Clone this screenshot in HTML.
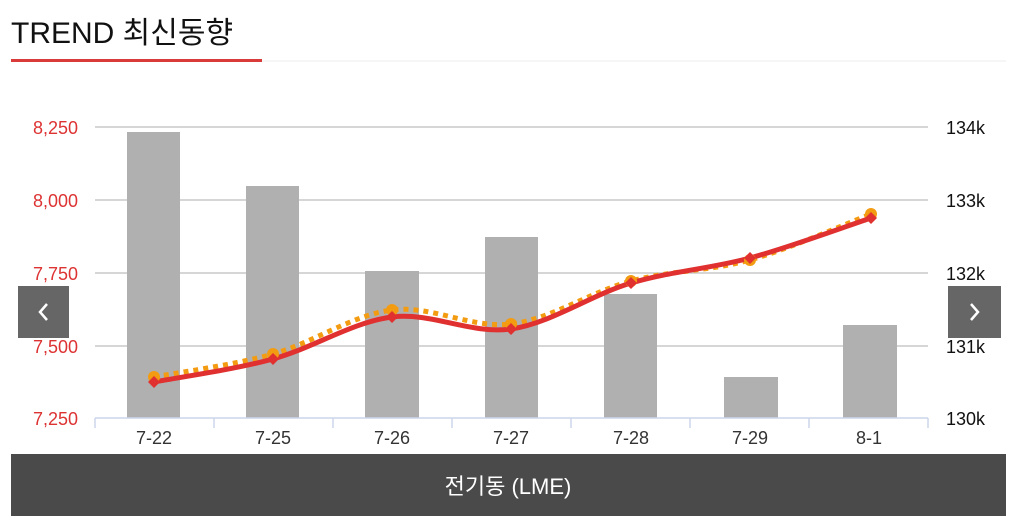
<!DOCTYPE html>
<html><head><meta charset="utf-8"><style>
body{margin:0;width:1015px;height:526px;background:#fff;overflow:hidden;font-family:"Liberation Sans","Noto Sans CJK KR",sans-serif;}
.t{position:absolute;left:11px;top:8px;font-size:30px;color:#111;}
</style></head><body>
<div class="t">TREND 최신동향</div>
<svg width="1015" height="526" style="position:absolute;left:0;top:0" id="s">
<line x1="11" y1="61" x2="1006" y2="61" stroke="#eee" stroke-width="1"/>
<rect x="11" y="59" width="251" height="3" fill="#d93a3a"/>
<g stroke="#c8c8c8" stroke-width="1.5">
<line x1="95" y1="127" x2="928" y2="127"/><line x1="95" y1="200" x2="928" y2="200"/>
<line x1="95" y1="273" x2="928" y2="273"/><line x1="95" y1="346" x2="928" y2="346"/>
</g>
<g fill="#b0b0b0">
<rect x="127" y="132" width="53" height="286"/><rect x="246" y="186" width="53" height="232"/>
<rect x="365" y="271" width="54" height="147"/><rect x="485" y="237" width="53" height="181"/>
<rect x="604" y="294" width="53" height="124"/><rect x="724" y="377" width="54" height="41"/>
<rect x="843" y="325" width="54" height="93"/>
</g>
<line x1="95" y1="418" x2="928" y2="418" stroke="#ccd6eb" stroke-width="1.5"/>
<g stroke="#ccd6eb" stroke-width="1.5" id="ticks"></g>
<path id="po" fill="none" stroke="#f39c12" stroke-width="5" stroke-dasharray="5,5"/>
<path id="pr" fill="none" stroke="#e03030" stroke-width="5"/>
<g id="mk"></g>
<g font-size="18" fill="#d33" text-anchor="end">
<text x="78" y="134">8,250</text><text x="78" y="207">8,000</text><text x="78" y="280">7,750</text><text x="78" y="353">7,500</text><text x="78" y="425">7,250</text>
</g>
<g font-size="18" fill="#111">
<text x="946" y="134">134k</text><text x="946" y="207">133k</text><text x="946" y="280">132k</text><text x="946" y="353">131k</text><text x="946" y="425">130k</text>
</g>
<g font-size="18" fill="#333" text-anchor="middle">
<text x="154" y="444">7-22</text><text x="273" y="444">7-25</text><text x="392" y="444">7-26</text><text x="511" y="444">7-27</text><text x="631" y="444">7-28</text><text x="750" y="444">7-29</text><text x="869" y="444">8-1</text>
</g>
<rect x="18" y="286" width="51" height="52" fill="#666"/>
<path d="M47 304 L40 312 L47 320" fill="none" stroke="#fff" stroke-width="2.5"/>
<rect x="948" y="286" width="53" height="52" fill="#666"/>
<path d="M971 304 L978 312 L971 320" fill="none" stroke="#fff" stroke-width="2.5"/>
<rect x="11" y="454" width="995" height="62" fill="#4a4a4a"/>
<text x="508" y="494" font-size="22" fill="#fff" text-anchor="middle">전기동 (LME)</text>
</svg>
<script>
var NS="http://www.w3.org/2000/svg";
var t=document.getElementById("ticks");
for(var i=0;i<=7;i++){var x=95+i*119,l=document.createElementNS(NS,"line");l.setAttribute("x1",x);l.setAttribute("x2",x);l.setAttribute("y1",418);l.setAttribute("y2",428);t.appendChild(l);}
function path(p){var d="M"+p[0][0]+" "+p[0][1];for(var i=0;i<p.length-1;i++){var a=p[i-1]||p[i],b=p[i],c=p[i+1],e=p[i+2]||c;
d+=" C"+(b[0]+(c[0]-a[0])/6)+" "+(b[1]+(c[1]-a[1])/6)+" "+(c[0]-(e[0]-b[0])/6)+" "+(c[1]-(e[1]-b[1])/6)+" "+c[0]+" "+c[1];}return d;}
var R=[[154,382],[273,359],[392,317],[511,329],[631,283],[750,258],[871,218]];
var O=[[154,377],[273,354],[392,310],[511,324],[631,281],[750,260],[871,214]];
document.getElementById("po").setAttribute("d",path(O));
document.getElementById("pr").setAttribute("d",path(R));
var m=document.getElementById("mk");
O.forEach(function(p){var c=document.createElementNS(NS,"circle");c.setAttribute("cx",p[0]);c.setAttribute("cy",p[1]);c.setAttribute("r",6);c.setAttribute("fill","#f39c12");m.appendChild(c);});
R.forEach(function(p){var c=document.createElementNS(NS,"path");c.setAttribute("d","M"+p[0]+" "+(p[1]-6)+" l6 6 l-6 6 l-6 -6z");c.setAttribute("fill","#e03030");m.appendChild(c);});
</script>
</body></html>
